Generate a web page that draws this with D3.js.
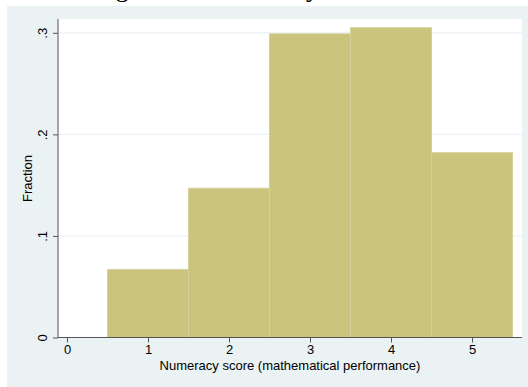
<!DOCTYPE html>
<html>
<head>
<meta charset="utf-8">
<script src="https://cdn.jsdelivr.net/npm/d3@7"></script>
<style>
  html, body { margin: 0; padding: 0; background: #ffffff; }
  svg { display: block; }
</style>
</head>
<body>
<svg id="chart" width="528" height="387"></svg>
<script>
// Numeracy score histogram (fraction of respondents per score)
const scores = [1, 2, 3, 4, 5];
const fractions = [0.067, 0.147, 0.299, 0.305, 0.182];
const xTicks = [0, 1, 2, 3, 4, 5];
const yTicks = [0, 0.1, 0.2, 0.3];
const yTickLabels = ["0", ".1", ".2", ".3"];
const titleText = "Histogram of Numeracy";
const xTitle = "Numeracy score (mathematical performance)";
const yTitle = "Fraction";

const W = 528, H = 387;
const plot = { left: 58, right: 522, top: 19, bottom: 338 };

const svg = d3.select("#chart");

// outer graph region
svg.append("rect")
  .attr("x", 7).attr("y", 6).attr("width", W - 7).attr("height", H - 6)
  .attr("fill", "#eaf2f3");

// title, mostly above the visible area
svg.append("text")
  .attr("x", 57).attr("y", -4.5)
  .attr("font-family", "Liberation Serif, serif")
  .attr("font-size", 27)
  .attr("fill", "#000")
  .text(titleText);

// plot region
svg.append("rect")
  .attr("x", plot.left).attr("y", plot.top)
  .attr("width", plot.right - plot.left).attr("height", plot.bottom - plot.top)
  .attr("fill", "#ffffff");

const x = d3.scaleLinear().domain([-0.111, 5.617]).range([plot.left, plot.right]);
const y = d3.scaleLinear().domain([0, 0.3136]).range([plot.bottom - 0.5, plot.top]);

// gridlines
svg.append("g")
  .selectAll("line")
  .data(yTicks.filter(d => d > 0))
  .join("line")
  .attr("x1", plot.left).attr("x2", plot.right)
  .attr("y1", d => y(d)).attr("y2", d => y(d))
  .attr("stroke", "#eaf2f3").attr("stroke-width", 1.2);

// bars
svg.append("g")
  .selectAll("rect")
  .data(scores.map((s, i) => ({ s, v: fractions[i] })))
  .join("rect")
  .attr("x", d => x(d.s - 0.5))
  .attr("width", d => x(d.s + 0.5) - x(d.s - 0.5))
  .attr("y", d => y(d.v))
  .attr("height", d => y(0) - y(d.v))
  .attr("fill", "#cac47f")
  .attr("stroke", "#d7d29c")
  .attr("stroke-width", 1);

// y axis
const yAxis = d3.axisLeft(y)
  .tickValues(yTicks)
  .tickFormat((d, i) => yTickLabels[i])
  .tickSize(5)
  .tickPadding(4);
const gy = svg.append("g")
  .attr("transform", `translate(${plot.left},0)`)
  .call(yAxis);
gy.select(".domain").attr("stroke", "#555").attr("d", `M0,${plot.top}V${plot.bottom}`);
gy.selectAll(".tick line").attr("stroke", "#555");
gy.selectAll(".tick text")
  .attr("font-family", "Liberation Sans, Arial, sans-serif")
  .attr("font-size", 13)
  .attr("fill", "#000")
  .attr("transform", "rotate(-90)")
  .attr("x", 0).attr("y", -15)
  .attr("dy", "0.32em")
  .attr("text-anchor", "middle");

// x axis
const xAxis = d3.axisBottom(x)
  .tickValues(xTicks)
  .tickFormat(d3.format("d"))
  .tickSize(5)
  .tickPadding(2);
const gx = svg.append("g")
  .attr("transform", `translate(0,${plot.bottom - 0.5})`)
  .call(xAxis);
gx.select(".domain").attr("stroke", "#555").attr("d", `M${plot.left},0H${plot.right}`);
gx.selectAll(".tick line").attr("stroke", "#555");
gx.selectAll(".tick text")
  .attr("font-family", "Liberation Sans, Arial, sans-serif")
  .attr("font-size", 13)
  .attr("fill", "#000");

// axis titles
svg.append("text")
  .attr("x", (plot.left + plot.right) / 2).attr("y", 370)
  .attr("text-anchor", "middle")
  .attr("font-family", "Liberation Sans, Arial, sans-serif")
  .attr("font-size", 13)
  .attr("fill", "#000")
  .text(xTitle);

svg.append("text")
  .attr("transform", `translate(32,${(plot.top + plot.bottom) / 2}) rotate(-90)`)
  .attr("text-anchor", "middle")
  .attr("font-family", "Liberation Sans, Arial, sans-serif")
  .attr("font-size", 13)
  .attr("fill", "#000")
  .text(yTitle);
</script>
</body>
</html>
